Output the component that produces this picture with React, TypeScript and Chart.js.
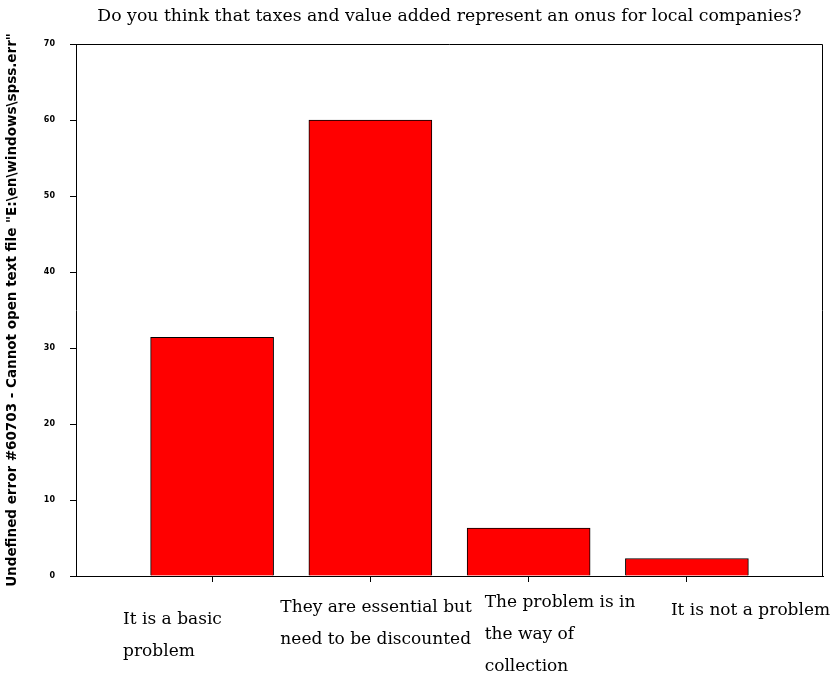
import React, { useEffect, useRef } from "react";
import { Chart, registerables } from "chart.js";

Chart.register(...registerables);

const chartTitle =
  "Do you think that taxes and value added represent an onus for local companies?";
const yAxisTitle =
  'Undefined error #60703 - Cannot open text file "E:\\en\\windows\\spss.err"';

const categories: string[][] = [
  ["It is a basic", "problem"],
  ["They are essential but", "need to be discounted"],
  ["The problem is in", "the way of", "collection"],
  ["It is not a problem"],
];
const percentages: number[] = [31.4, 60.0, 6.3, 2.3];
const yTickValues: number[] = [0, 10, 20, 30, 40, 50, 60, 70];

export default function App() {
  const ref = useRef<HTMLCanvasElement>(null);

  useEffect(() => {
    if (!ref.current) return;
    const serif = '"DejaVu Serif", "Liberation Serif", serif';
    const labelDx = [-89, -90, -44, -16];
    const labelBase = [48, 36, 31, 39];
    const lineGap = 32;

    const framePlugin = {
      id: "frame",
      afterDraw(chart: any) {
        const { ctx, chartArea } = chart;
        const top = Math.round(chartArea.top) + 0.5;
        const right = Math.round(chartArea.right) - 0.5;
        const left = Math.round(chartArea.left);
        const bottom = Math.round(chartArea.bottom);
        ctx.save();
        ctx.strokeStyle = "#000";
        ctx.lineWidth = 1;
        ctx.beginPath();
        ctx.moveTo(left, top);
        ctx.lineTo(right, top);
        ctx.lineTo(right, bottom);
        ctx.stroke();

        const xs = chart.scales.x;
        ctx.font = "17px " + serif;
        ctx.fillStyle = "#000";
        ctx.textAlign = "left";
        ctx.textBaseline = "alphabetic";
        categories.forEach((lines, i) => {
          const px = xs.getPixelForValue(i + 1) + labelDx[i];
          lines.forEach((ln, k) => {
            ctx.fillText(ln, px, chartArea.bottom + labelBase[i] + k * lineGap);
          });
        });
        ctx.restore();
      },
    };

    const chart = new Chart(ref.current, {
      type: "bar",
      data: {
        datasets: [
          {
            data: percentages.map((v, i) => ({ x: i + 1, y: v })),
            backgroundColor: "#ff0000",
            borderColor: "#000000",
            borderWidth: 1,
            barThickness: 123,
          },
        ],
      },
      options: {
        responsive: false,
        animation: false,
        devicePixelRatio: 1,
        layout: { padding: { left: 0, right: 16, top: 0, bottom: 0 } },
        plugins: {
          legend: { display: false },
          tooltip: { enabled: false },
          title: {
            display: true,
            text: chartTitle,
            fullSize: false,
            color: "#000",
            font: { family: serif, size: 17.3, weight: "normal", lineHeight: 18 / 17.3 },
            padding: { top: 8, bottom: 18 },
          },
        },
        scales: {
          x: {
            type: "linear",
            min: 0.14,
            max: 4.86,
            offset: false,
            afterBuildTicks: (s: any) => {
              s.ticks = categories.map((_, i) => ({ value: i + 1 }));
            },
            ticks: { display: false },
            grid: { drawOnChartArea: false, tickLength: 6, color: "#000", offset: false },
            border: { color: "#000", width: 1 },
            afterFit: (s: any) => {
              s.height = 105;
            },
          },
          y: {
            min: 0,
            max: 70,
            afterBuildTicks: (s: any) => {
              s.ticks = yTickValues.map((v) => ({ value: v }));
            },
            ticks: {
              color: "#000",
              font: { family: "DejaVu Sans", size: 8, weight: "bold" },
              padding: 15,
            },
            grid: { drawOnChartArea: false, tickLength: 6, color: "#000" },
            border: { color: "#000", width: 1 },
            title: {
              display: true,
              text: yAxisTitle,
              color: "#000",
              font: { family: "DejaVu Sans", size: 13.5, weight: "bold", lineHeight: 1 },
              padding: { top: 6, bottom: 0 },
            },
            afterFit: (s: any) => {
              s.width = 76;
            },
          },
        },
      },
      plugins: [framePlugin],
    } as any);

    return () => chart.destroy();
  }, []);

  return (
    <div style={{ position: "fixed", left: 0, top: 0, width: 839, height: 681 }}>
      <canvas
        ref={ref}
        width={839}
        height={681}
        style={{ display: "block", width: 839, height: 681 }}
      />
    </div>
  );
}
